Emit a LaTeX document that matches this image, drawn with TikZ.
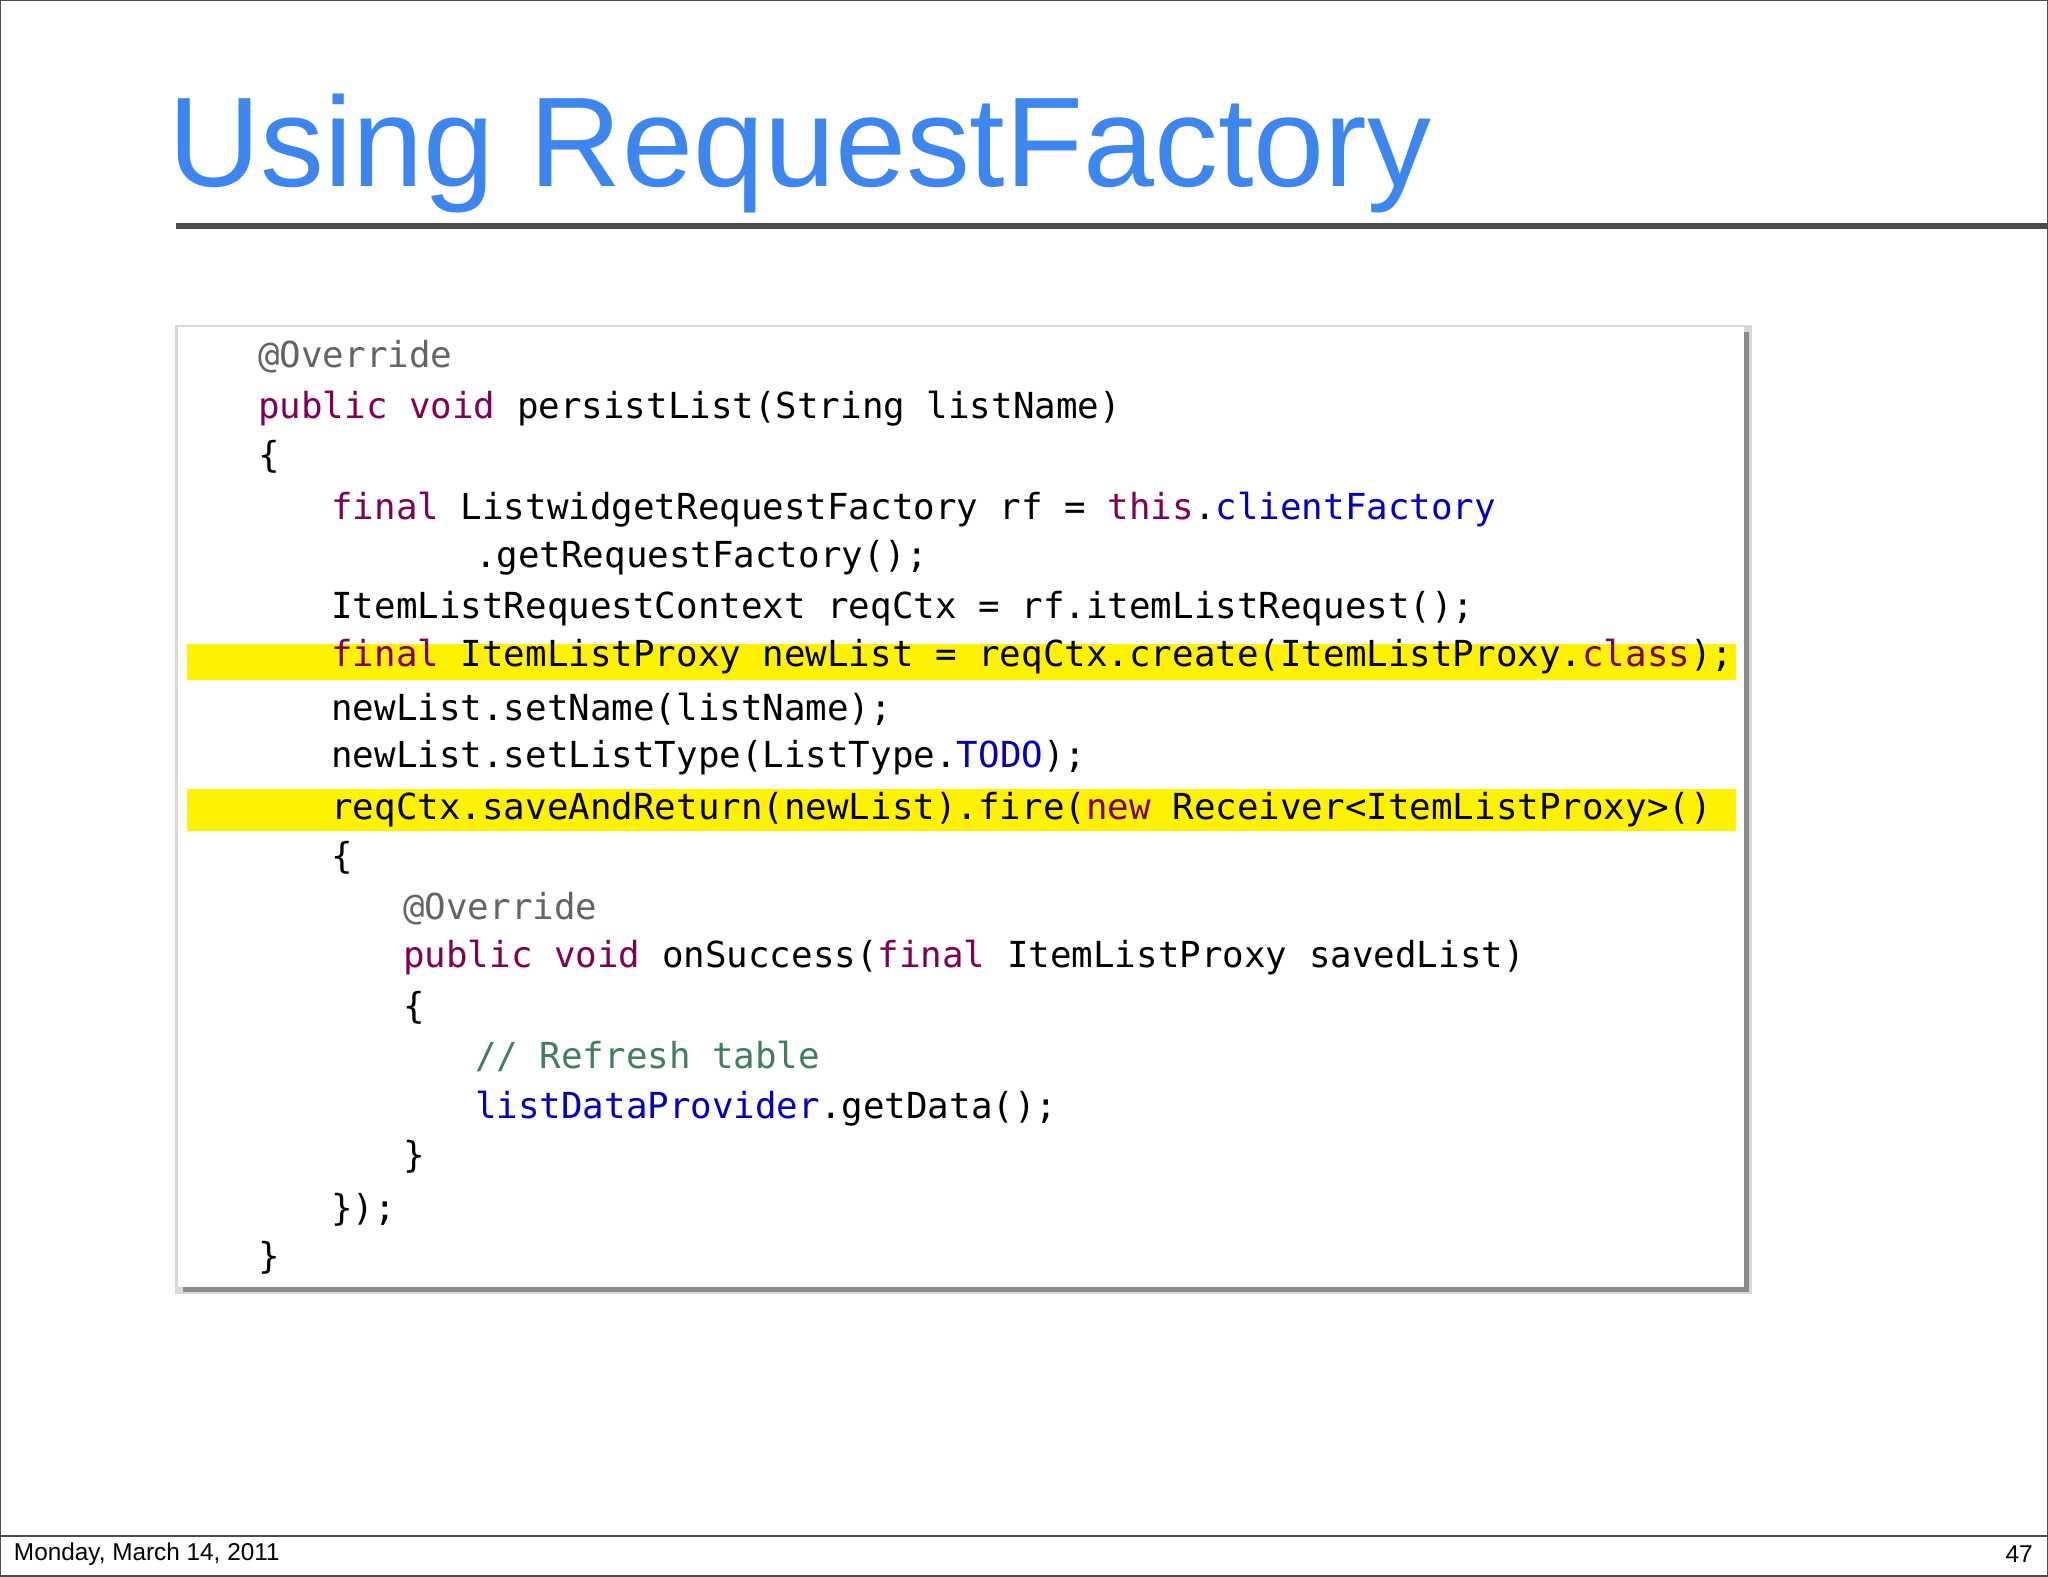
\documentclass[tikz,border=0pt]{standalone}
\usepackage{fontspec}
\setmainfont{Liberation Sans}
\newfontfamily\codefont{DejaVu Sans Mono}
\definecolor{kw}{HTML}{7F0055}
\definecolor{fld}{HTML}{0000C0}
\definecolor{cmt}{HTML}{3F7F5F}
\definecolor{ann}{HTML}{646464}
\definecolor{ttl}{HTML}{3D86F0}
\newcommand{\kwd}[1]{\textcolor{kw}{#1}}
\newcommand{\fl}[1]{\textcolor{fld}{#1}}
\begin{document}
\begin{tikzpicture}[x=0.01cm,y=-0.01cm,
  code/.style={anchor=west,inner sep=0pt,font=\codefont\fontsize{7.8}{10}\selectfont},
  footer/.style={inner sep=0pt,font=\fontsize{5.3}{7}\selectfont}]
\useasboundingbox (0,0) rectangle (1568,1207);
\draw[black!70,line width=0.6pt] (0,0) rectangle (1568,1207);
\node[anchor=base west,inner sep=0pt,text=ttl,font=\fontsize{27.8}{32}\selectfont] (title) at (128,143) {Using RequestFactory};
\draw[black!70,line width=1.2pt] (135,173) -- (1568,173);
% shadow and box
\fill[black!15] (134,249) rectangle (1341,991);
\fill[black!45] (140,254) rectangle (1339,989);
\fill[white] (136,250) rectangle (1335,985);
\fill[yellow] (143,493) rectangle (1329,521);
\fill[yellow] (143,604) rectangle (1329,636);
\node[code,text=ann] (l1) at (197,273) {@Override};
\node[code] (l2) at (197,313) {\kwd{public} \kwd{void} persistList(String listName)};
\node[code] (l3) at (197,350) {\{};
\node[code] (l4) at (253,390) {\kwd{final} ListwidgetRequestFactory rf = \kwd{this}.\fl{clientFactory}};
\node[code] (l5) at (363,427) {.getRequestFactory();};
\node[code] (l6) at (253,466) {ItemListRequestContext reqCtx = rf.itemListRequest();};
\node[code] (l7) at (253,503) {\kwd{final} ItemListProxy newList = reqCtx.create(ItemListProxy.\kwd{class});};
\node[code] (l8) at (253,543) {newList.setName(listName);};
\node[code] (l9) at (253,580) {newList.setListType(ListType.\fl{TODO});};
\node[code] (l10) at (253,620) {reqCtx.saveAndReturn(newList).fire(\kwd{new} Receiver<ItemListProxy>()};
\node[code] (l11) at (253,657) {\{};
\node[code,text=ann] (l12) at (308,696) {@Override};
\node[code] (l13) at (308,733) {\kwd{public} \kwd{void} onSuccess(\kwd{final} ItemListProxy savedList)};
\node[code] (l14) at (308,772) {\{};
\node[code,text=cmt] (l15) at (363,809) {// Refresh table};
\node[code] (l16) at (363,849) {\fl{listDataProvider}.getData();};
\node[code] (l17) at (308,886) {\}};
\node[code] (l18) at (253,926) {\});};
\node[code] (l19) at (197,963) {\}};
\draw[black!70,line width=0.6pt] (0,1176) -- (1568,1176);
\node[footer,anchor=west] (date) at (10,1190) {Monday, March 14, 2011};
\node[footer,anchor=east] (page) at (1557,1190) {47};
\end{tikzpicture}
\end{document}
